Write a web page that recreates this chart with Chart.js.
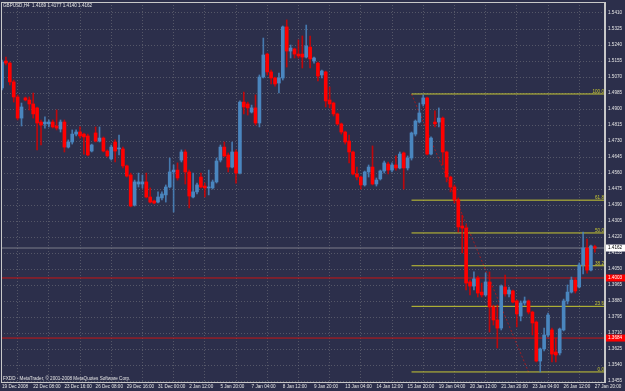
<!DOCTYPE html>
<html>
<head>
<meta charset="utf-8">
<script src="https://cdn.jsdelivr.net/npm/chart.js@4.4.1/dist/chart.umd.min.js"></script>
<style>
    html, body { margin: 0; padding: 0; background: #2c2f4b; }
    #contenedor { width: 625px; height: 391px; }
</style>
</head>
<body>
<div id="contenedor"><canvas id="graficoVelas" width="625" height="391"></canvas></div>
<script>
// Textos del grafico
const simbolo = 'GBPUSD,H4';
const ultimaVela = '1.4169 1.4177 1.4140 1.4162';
const pieGrafico = 'FXDD - MetaTrader, © 2001-2008 MetaQuotes Software Corp.';

// Velas H4 (apertura, maximo, minimo, cierre)
const apertura = [
    1.5012, 1.5155, 1.5144, 1.5044, 1.4964, 1.4852, 1.4959, 1.4948, 1.4927, 1.4906,
    1.4831, 1.4821, 1.4821, 1.4831, 1.4810, 1.4794, 1.4831, 1.4698, 1.4725, 1.4767,
    1.4778, 1.4767, 1.4757, 1.4677, 1.4773, 1.4730, 1.4746, 1.4677, 1.4635, 1.4725,
    1.4688, 1.4688, 1.4598, 1.4550, 1.4390, 1.4502, 1.4502, 1.4513, 1.4433, 1.4412,
    1.4406, 1.4428, 1.4444, 1.4486, 1.4566, 1.4576, 1.4629, 1.4672, 1.4566, 1.4433,
    1.4460, 1.4539, 1.4491, 1.4481, 1.4481, 1.4513, 1.4629, 1.4698, 1.4656, 1.4592,
    1.4672, 1.4560, 1.4937, 1.4927, 1.4884, 1.4906, 1.4826, 1.5070, 1.5192, 1.5097,
    1.5065, 1.5038, 1.5065, 1.5336, 1.5208, 1.5219, 1.5192, 1.5192, 1.5176, 1.5229,
    1.5155, 1.5144, 1.5081, 1.5097, 1.4948, 1.4932, 1.4874, 1.4821, 1.4778, 1.4730,
    1.4672, 1.4555, 1.4539, 1.4497, 1.4566, 1.4592, 1.4502, 1.4529, 1.4571, 1.4608,
    1.4576, 1.4603, 1.4587, 1.4667, 1.4587, 1.4640, 1.4767, 1.4831, 1.4927, 1.4959,
    1.4661, 1.4831, 1.4831, 1.4852, 1.4672, 1.4539, 1.4486, 1.4417, 1.4279, 1.4268,
    1.3982, 1.3960, 1.4003, 1.3928, 1.3913, 1.3982, 1.3849, 1.3780, 1.3737, 1.3955,
    1.3918, 1.3934, 1.3881, 1.3801, 1.3870, 1.3881, 1.3822, 1.3769, 1.3562, 1.3626,
    1.3700, 1.3727, 1.3610, 1.3605, 1.3727, 1.3881, 1.3928, 1.3992, 1.3955, 1.4072,
    1.4162, 1.4045, 1.4169
];
const maximo = [
    1.5160, 1.5176, 1.5150, 1.5054, 1.4975, 1.4932, 1.4964, 1.4964, 1.4985, 1.4911,
    1.4842, 1.4858, 1.4842, 1.4842, 1.4895, 1.4842, 1.4842, 1.4736, 1.4789, 1.4789,
    1.4805, 1.4773, 1.4767, 1.4714, 1.4805, 1.4805, 1.4752, 1.4683, 1.4709, 1.4736,
    1.4762, 1.4698, 1.4603, 1.4560, 1.4523, 1.4560, 1.4550, 1.4560, 1.4481, 1.4417,
    1.4460, 1.4460, 1.4497, 1.4640, 1.4603, 1.4614, 1.4683, 1.4683, 1.4576, 1.4560,
    1.4507, 1.4560, 1.4507, 1.4576, 1.4523, 1.4640, 1.4709, 1.4725, 1.4667, 1.4725,
    1.4683, 1.4943, 1.4990, 1.4937, 1.4921, 1.4975, 1.5081, 1.5277, 1.5197, 1.5107,
    1.5070, 1.5091, 1.5341, 1.5373, 1.5240, 1.5224, 1.5267, 1.5288, 1.5346, 1.5288,
    1.5176, 1.5150, 1.5107, 1.5102, 1.5017, 1.4937, 1.4879, 1.4826, 1.4783, 1.4762,
    1.4677, 1.4592, 1.4544, 1.4571, 1.4603, 1.4704, 1.4534, 1.4576, 1.4624, 1.4619,
    1.4614, 1.4651, 1.4672, 1.4672, 1.4651, 1.4778, 1.4842, 1.4932, 1.4975, 1.4964,
    1.4752, 1.4890, 1.4906, 1.4858, 1.4677, 1.4544, 1.4497, 1.4428, 1.4337, 1.4284,
    1.3992, 1.4035, 1.4013, 1.3976, 1.4029, 1.4035, 1.3859, 1.3859, 1.3966, 1.4019,
    1.3955, 1.3939, 1.3886, 1.3881, 1.3902, 1.3886, 1.3827, 1.3775, 1.3631, 1.3737,
    1.3817, 1.3737, 1.3684, 1.3737, 1.3891, 1.3966, 1.4008, 1.4003, 1.4083, 1.4247,
    1.4210, 1.4178, 1.4177
];
const minimo = [
    1.5001, 1.5134, 1.5028, 1.4937, 1.4842, 1.4810, 1.4943, 1.4895, 1.4852, 1.4683,
    1.4709, 1.4799, 1.4805, 1.4799, 1.4789, 1.4778, 1.4672, 1.4693, 1.4714, 1.4757,
    1.4746, 1.4661, 1.4651, 1.4672, 1.4725, 1.4725, 1.4672, 1.4645, 1.4629, 1.4619,
    1.4656, 1.4587, 1.4539, 1.4380, 1.4385, 1.4486, 1.4481, 1.4428, 1.4401, 1.4396,
    1.4401, 1.4417, 1.4406, 1.4481, 1.4353, 1.4523, 1.4619, 1.4502, 1.4375, 1.4428,
    1.4449, 1.4481, 1.4433, 1.4444, 1.4475, 1.4507, 1.4619, 1.4646, 1.4566, 1.4587,
    1.4507, 1.4555, 1.4874, 1.4868, 1.4879, 1.4815, 1.4805, 1.5065, 1.5081, 1.5033,
    1.5022, 1.4985, 1.5054, 1.5123, 1.5171, 1.5171, 1.5171, 1.5118, 1.5171, 1.5118,
    1.5144, 1.5049, 1.5065, 1.4911, 1.4906, 1.4863, 1.4815, 1.4767, 1.4714, 1.4614,
    1.4550, 1.4523, 1.4475, 1.4491, 1.4539, 1.4497, 1.4491, 1.4523, 1.4560, 1.4555,
    1.4566, 1.4576, 1.4582, 1.4475, 1.4576, 1.4629, 1.4757, 1.4826, 1.4916, 1.4656,
    1.4656, 1.4805, 1.4805, 1.4603, 1.4513, 1.4460, 1.4401, 1.4247, 1.4136, 1.3939,
    1.3913, 1.3939, 1.3902, 1.3902, 1.3907, 1.3716, 1.3753, 1.3631, 1.3727, 1.3907,
    1.3902, 1.3870, 1.3743, 1.3775, 1.3859, 1.3812, 1.3700, 1.3557, 1.3504, 1.3615,
    1.3690, 1.3557, 1.3557, 1.3594, 1.3722, 1.3865, 1.3923, 1.3923, 1.3950, 1.4024,
    1.4029, 1.4040, 1.4140
];
const cierre = [
    1.5150, 1.5144, 1.5044, 1.4964, 1.4852, 1.4911, 1.4948, 1.4927, 1.4874, 1.4826,
    1.4815, 1.4831, 1.4831, 1.4805, 1.4799, 1.4831, 1.4698, 1.4725, 1.4767, 1.4778,
    1.4757, 1.4752, 1.4656, 1.4709, 1.4730, 1.4746, 1.4677, 1.4651, 1.4698, 1.4677,
    1.4693, 1.4598, 1.4544, 1.4385, 1.4513, 1.4513, 1.4513, 1.4433, 1.4406, 1.4401,
    1.4433, 1.4449, 1.4486, 1.4566, 1.4576, 1.4534, 1.4672, 1.4566, 1.4438, 1.4460,
    1.4497, 1.4486, 1.4481, 1.4486, 1.4513, 1.4624, 1.4698, 1.4651, 1.4592, 1.4672,
    1.4560, 1.4937, 1.4911, 1.4906, 1.4906, 1.4826, 1.5070, 1.5187, 1.5097, 1.5065,
    1.5033, 1.5065, 1.5336, 1.5208, 1.5224, 1.5192, 1.5182, 1.5176, 1.5235, 1.5166,
    1.5171, 1.5075, 1.5102, 1.4943, 1.4927, 1.4874, 1.4821, 1.4778, 1.4725, 1.4672,
    1.4555, 1.4539, 1.4497, 1.4566, 1.4592, 1.4502, 1.4523, 1.4571, 1.4614, 1.4576,
    1.4603, 1.4587, 1.4661, 1.4587, 1.4640, 1.4773, 1.4836, 1.4879, 1.4959, 1.4661,
    1.4746, 1.4821, 1.4852, 1.4672, 1.4539, 1.4486, 1.4417, 1.4274, 1.4268, 1.3976,
    1.3960, 1.3998, 1.3923, 1.3913, 1.3982, 1.3849, 1.3780, 1.3737, 1.3960, 1.3918,
    1.3939, 1.3875, 1.3812, 1.3870, 1.3881, 1.3822, 1.3764, 1.3562, 1.3626, 1.3700,
    1.3806, 1.3599, 1.3594, 1.3732, 1.3881, 1.3928, 1.3992, 1.3934, 1.4072, 1.4162,
    1.4045, 1.4173, 1.4162
];

// Eje de tiempo: una etiqueta cada 8 velas
const etiquetasTiempo = [
    '19 Dec 2008', '22 Dec 08:00', '23 Dec 16:00', '26 Dec 08:00', '29 Dec 16:00',
    '31 Dec 00:00', '2 Jan 12:00', '5 Jan 20:00', '7 Jan 04:00', '8 Jan 12:00',
    '9 Jan 20:00', '13 Jan 04:00', '14 Jan 12:00', '15 Jan 20:00', '19 Jan 04:00',
    '20 Jan 12:00', '21 Jan 20:00', '23 Jan 04:00', '26 Jan 12:00', '27 Jan 20:00'
];
const posicionesTiempo = [0, 8, 16, 24, 32, 40, 48, 56, 64, 72, 80, 88, 96, 104, 112, 120, 128, 136, 144, 152];

// Eje de precios
const preciosEje = [
    1.5410, 1.5325, 1.5240, 1.5155, 1.5070, 1.4985, 1.4900, 1.4815, 1.4730, 1.4645,
    1.4560, 1.4475, 1.4390, 1.4305, 1.4220, 1.4135, 1.4050, 1.3965, 1.3880, 1.3795,
    1.3710, 1.3625, 1.3540, 1.3455
];

// Objetos dibujados: Fibonacci, lineas horizontales y linea Bid
const nivelesFibo = [100.0, 61.8, 50.0, 38.2, 23.6, 0.0];
const fiboAlto = 1.4980;
const fiboBajo = 1.3504;
const fiboVelaInicio = 105;
const fiboVelaFin = 135;
const lineasRojas = [1.4003, 1.3684];
const precioBid = 1.4162;

const ejeXMin = -0.26, ejeXMax = 154.61;
const ejeYMin = 1.34506, ejeYMax = 1.54684;

const colorFondo = '#2c2f4b';
const colorAlcista = '#4a86bf';
const colorBajista = '#ff0000';
const colorFibo = '#c8c832';
const colorTexto = '#e4e4e4';
const colorMarco = '#c8c8c8';
const colorRejilla = 'rgba(120,120,130,0.55)';
const familia = "'Liberation Sans', Arial, sans-serif";
const tamFuente = 4.6;

document.addEventListener('DOMContentLoaded', function () {
    Chart.defaults.font.family = familia;
    Chart.defaults.font.size = tamFuente;
    Chart.defaults.color = colorTexto;

    const cuerpos = apertura.map((o, i) => ({ x: i, y: [o, cierre[i]] }));
    const mechas = minimo.map((l, i) => ({ x: i, y: [l, maximo[i]] }));
    const alcista = cierre.map((c, i) => c >= apertura[i]);

    const valorFibo = n => fiboBajo + (fiboAlto - fiboBajo) * n / 100;

    const lineaDataset = (datos, color, extra) => Object.assign({
        type: 'line',
        data: datos,
        borderColor: color,
        borderWidth: 1,
        pointRadius: 0,
        fill: false,
        order: 5
    }, extra || {});

    const datasets = [
        {
            type: 'bar',
            data: cuerpos,
            backgroundColor: alcista.map(a => a ? colorAlcista : colorBajista),
            borderWidth: 0,
            barThickness: 3,
            minBarLength: 1,
            grouped: false,
            order: 0
        },
        {
            type: 'bar',
            data: mechas,
            backgroundColor: alcista.map(a => a ? 'rgba(74,134,191,0.85)' : 'rgba(215,0,0,0.85)'),
            borderWidth: 0,
            barThickness: 1,
            grouped: false,
            order: 1
        }
    ];

    nivelesFibo.forEach(n => {
        datasets.push(lineaDataset([{ x: fiboVelaInicio, y: valorFibo(n) }, { x: ejeXMax, y: valorFibo(n) }], colorFibo));
    });
    datasets.push(lineaDataset([{ x: fiboVelaInicio, y: fiboAlto }, { x: fiboVelaFin, y: fiboBajo }], 'rgba(190,24,24,0.8)', { borderDash: [2, 2] }));
    lineasRojas.forEach(p => {
        datasets.push(lineaDataset([{ x: ejeXMin, y: p }, { x: ejeXMax, y: p }], '#c81414'));
    });
    datasets.push(lineaDataset([{ x: ejeXMin, y: precioBid }, { x: ejeXMax, y: precioBid }], '#7c7d8a'));

    // Textos, marco y cajas de precio al estilo MetaTrader
    const pluginMT4 = {
        id: 'estiloMT4',
        beforeDraw(chart) {
            const ctx = chart.ctx;
            ctx.save();
            ctx.fillStyle = colorFondo;
            ctx.fillRect(0, 0, chart.width, chart.height);
            ctx.restore();
        },
        afterDraw(chart) {
            const { ctx, chartArea: a, scales: { y } } = chart;
            ctx.save();
            ctx.strokeStyle = colorMarco;
            ctx.lineWidth = 1;
            ctx.strokeRect(a.left + 0.5, a.top + 0.5, a.right - a.left - 1, a.bottom - a.top);

            ctx.font = tamFuente + 'px ' + familia;
            ctx.fillStyle = colorTexto;
            ctx.textAlign = 'left';
            ctx.textBaseline = 'top';
            ctx.fillText(simbolo + '  ' + ultimaVela, 3, 3);
            ctx.textBaseline = 'alphabetic';
            ctx.fillText(pieGrafico, 3, 380);

            // etiquetas de niveles Fibonacci
            ctx.fillStyle = colorFibo;
            ctx.textAlign = 'right';
            ctx.textBaseline = 'bottom';
            nivelesFibo.forEach(n => {
                ctx.fillText(n.toFixed(1), a.right - 1, y.getPixelForValue(valorFibo(n)));
            });

            // cajas en el eje de precios
            const caja = (precio, fondo, texto) => {
                const py = y.getPixelForValue(precio);
                ctx.fillStyle = fondo;
                ctx.fillRect(a.right + 1, py - 3.5, 19, 7);
                ctx.fillStyle = texto;
                ctx.textAlign = 'left';
                ctx.textBaseline = 'middle';
                ctx.fillText(precio.toFixed(4), a.right + 3, py);
            };
            lineasRojas.forEach(p => caja(p, '#ff0000', '#ffffff'));
            caja(precioBid, '#ffffff', '#000000');
            ctx.restore();
        }
    };

    new Chart(document.getElementById('graficoVelas'), {
        type: 'bar',
        data: { datasets: datasets },
        options: {
            responsive: false,
            animation: false,
            events: [],
            layout: { padding: { top: 2, left: 1, right: 0, bottom: 0 } },
            plugins: {
                legend: { display: false },
                tooltip: { enabled: false }
            },
            scales: {
                x: {
                    type: 'linear',
                    min: ejeXMin,
                    max: ejeXMax,
                    bounds: 'data',
                    offset: false,
                    grid: { offset: true, color: colorRejilla, drawTicks: false, lineWidth: 1 },
                    border: { display: true, color: colorMarco, dash: [1, 2] },
                    ticks: {
                        autoSkip: false,
                        maxRotation: 0,
                        minRotation: 0,
                        align: 'start',
                        padding: 2,
                        color: colorTexto,
                        callback: (v, i) => etiquetasTiempo[i]
                    },
                    afterBuildTicks: scale => {
                        scale.ticks = posicionesTiempo.map(v => ({ value: v }));
                    },
                    afterFit: scale => {
                        scale.height = 9;
                        scale.paddingLeft = 0;
                        scale.paddingRight = 0;
                    }
                },
                y: {
                    type: 'linear',
                    position: 'right',
                    min: ejeYMin,
                    max: ejeYMax,
                    bounds: 'data',
                    beginAtZero: false,
                    grid: { color: colorRejilla, drawTicks: false, lineWidth: 1 },
                    border: { display: true, color: colorMarco, dash: [1, 2] },
                    ticks: {
                        padding: 3,
                        color: colorTexto,
                        callback: v => Number(v).toFixed(4)
                    },
                    afterBuildTicks: scale => {
                        scale.ticks = preciosEje.map(v => ({ value: v }));
                    },
                    afterFit: scale => {
                        scale.width = 20;
                        scale.paddingTop = 0;
                        scale.paddingBottom = 0;
                    }
                }
            }
        },
        plugins: [pluginMT4]
    });
});
</script>
</body>
</html>
